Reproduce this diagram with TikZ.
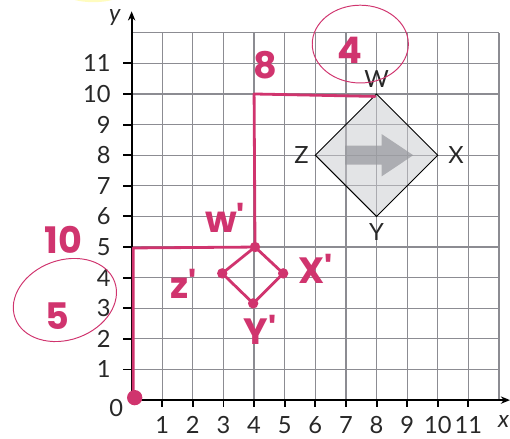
\documentclass[tikz,border=0pt]{standalone}
\usepackage{fontspec}
\setmainfont{Lato}
\newfontfamily\handfont{Poppins}
\usepackage{tikz}
\usetikzlibrary{arrows.meta,calc,positioning}
\definecolor{gridgray}{RGB}{140,140,146}
\definecolor{inkpink}{RGB}{208,52,110}
\definecolor{shapegray}{RGB}{200,201,205}
\definecolor{arrowgray}{RGB}{150,151,156}
\definecolor{numblack}{RGB}{40,40,40}
\tikzset{
  gridline/.style={gridgray, line width=1.1pt},
  axisline/.style={line width=1.8pt, -{Stealth[length=3mm,width=2.4mm]}},
  tickmark/.style={line width=1.8pt},
  ticklabel/.style={font=\fontsize{22}{22}\selectfont, text=numblack, inner sep=0pt},
  vertexlabel/.style={font=\fontsize{22}{22}\selectfont, text=numblack, inner sep=0pt},
  inkline/.style={inkpink, line width=2.6pt, line join=round, line cap=round},
  inkdot/.style={circle, fill=inkpink, inner sep=0pt, minimum size=3.4mm},
  inktext/.style={text=inkpink, font=\handfont\bfseries\fontsize{34}{34}\selectfont, inner sep=0pt},
  inkring/.style={inkpink, line width=0.9pt},
}
\begin{document}
\begin{tikzpicture}
  \useasboundingbox (-4.30,-1.24) rectangle (12.36,13.07);
  % highlighter at the top
  \fill[yellow!25] (-1.25,13.2) ellipse (0.8 and 0.2);

  % grid and axes
  \draw[gridline] (0,0) grid (12,12);
  \foreach \n in {1,...,11} {
    \draw[tickmark] (\n,0) -- (\n,-0.22);
    \node[ticklabel] (xl\n) at (\n,-0.82) {\n};
    \draw[tickmark] (0,\n) -- (-0.28,\n);
    \node[ticklabel, anchor=east] (yl\n) at (-0.68,\n) {\n};
  }
  \node[ticklabel] (zero) at (-0.5,-0.27) {0};
  \coordinate (O) at (0,0);
  \coordinate (xend) at (12.36,0);
  \coordinate (yend) at (0,12.7);
  \draw[axisline] (O) -- (xend);
  \draw[axisline] (O) -- (yend);
  \node[ticklabel, font=\itshape\fontsize{22}{22}\selectfont] (ylab) at (-0.55,12.5) {y};
  \node[ticklabel, font=\itshape\fontsize{22}{22}\selectfont, anchor=east] (xlab) at (12.34,-0.7) {x};

  % shape WXYZ
  \coordinate (W) at (8,10);
  \coordinate (X) at (10,8);
  \coordinate (Y) at (8,6);
  \coordinate (Z) at (6,8);
  \fill[shapegray, fill opacity=0.5] (W) -- (X) -- (Y) -- (Z) -- cycle;
  \fill[arrowgray, fill opacity=0.7] (6.97,7.69) -- (8.17,7.69) -- (8.17,7.31)
    -- (9.2,8) -- (8.17,8.69) -- (8.17,8.31) -- (6.97,8.31) -- cycle;
  \draw[black, line width=0.9pt] (W) -- (X) -- (Y) -- (Z) -- cycle;
  \node[vertexlabel] (Wl) at (8,10.5) {W};
  \node[vertexlabel] (Xl) at (10.6,8) {X};
  \node[vertexlabel] (Yl) at (8,5.5) {Y};
  \node[vertexlabel] (Zl) at (5.55,8) {Z};

  % pink working
  \coordinate (Pstart) at (0.05,0.02);
  \coordinate (Pcorner) at (0.05,4.97);
  \coordinate (Qcorner) at (4.0,10.0);
  \coordinate (Qend) at (7.95,9.92);
  \coordinate (Wp) at (4.03,5.0);
  \coordinate (Xp) at (4.95,4.14);
  \coordinate (Yp) at (3.97,3.16);
  \coordinate (Zp) at (2.96,4.14);
  \draw[inkline] (Pstart) -- (Pcorner) -- (Wp) -- (Qcorner) -- (Qend);
  \draw[inkline] (Wp) -- (Xp) -- (Yp) -- (Zp) -- cycle;
  \node[inkdot, minimum size=5mm] (dotO) at (0.1,0.08) {};
  \foreach \p in {Wp,Xp,Yp,Zp}
    \node[inkdot] (dot\p) at (\p) {};

  \node[inktext] (eight) at (4.36,10.95) {8};
  \node[inktext] (four) at (7.13,11.44) {4};
  \draw[inkring] (7.47,11.63) ellipse (1.57 and 1.27);
  \node[inktext] (ten) at (-2.24,5.23) {10};
  \node[inktext] (five) at (-2.41,2.75) {5};
  \draw[inkring, rotate around={20:(-2.18,3.27)}] (-2.18,3.27) ellipse (1.73 and 1.3);
  \node[inktext] (Wplab) at (3.05,5.95) {w'};
  \node[inktext] (Zplab) at (1.7,3.8) {z'};
  \node[inktext] (Xplab) at (6.0,4.3) {X'};
  \node[inktext] (Yplab) at (4.2,2.3) {Y'};
\end{tikzpicture}
\end{document}
